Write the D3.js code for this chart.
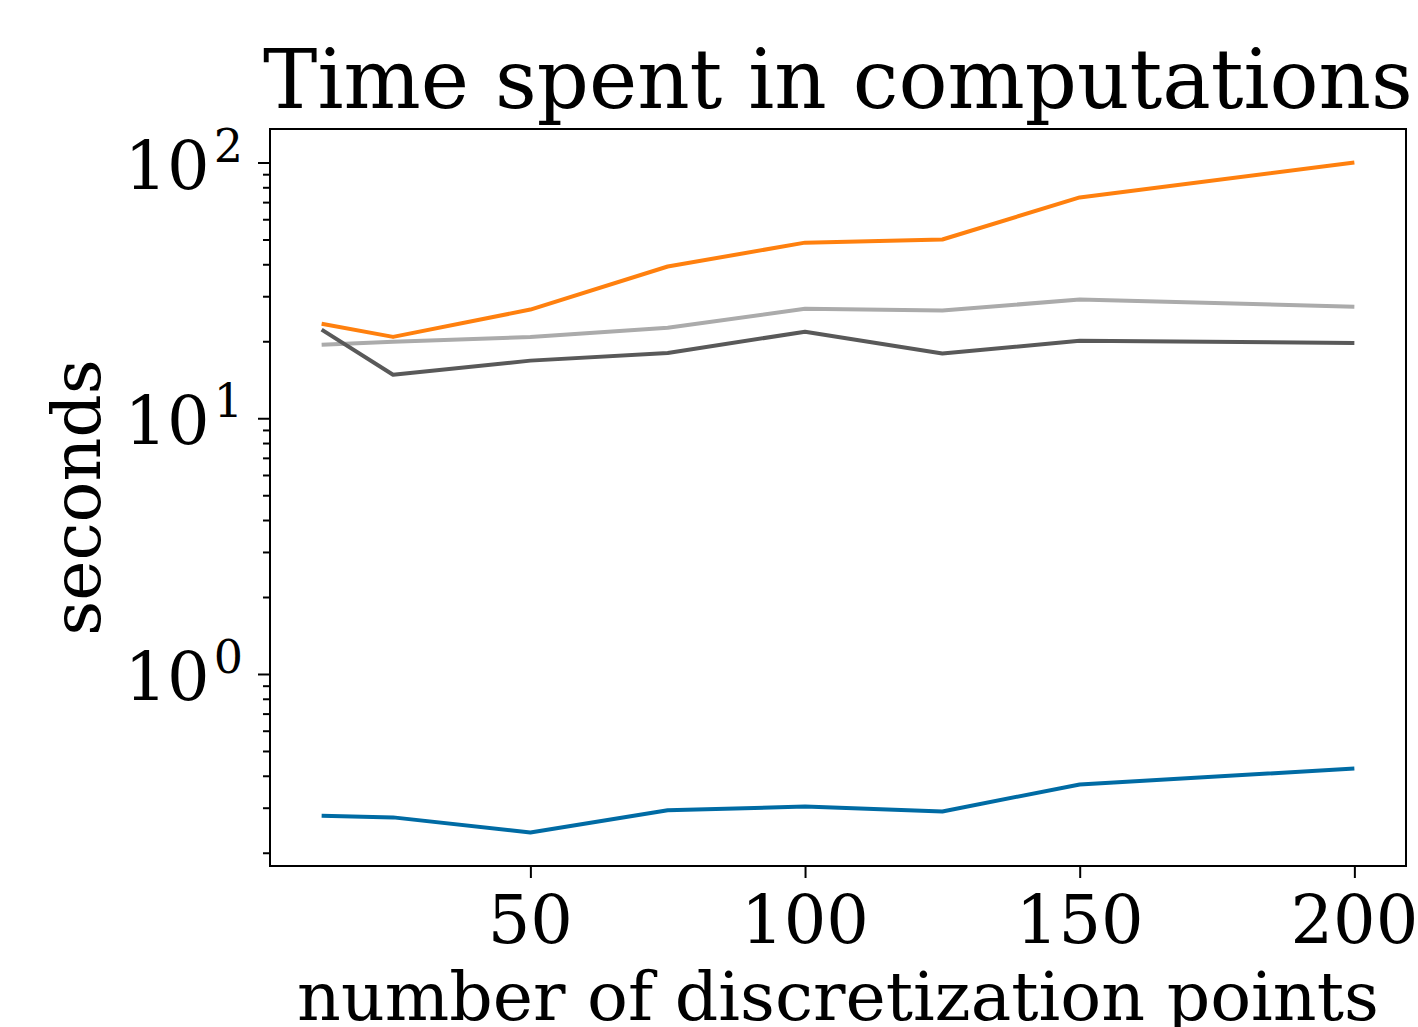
<!DOCTYPE html>
<html>
<head>
<meta charset="utf-8">
<script src="https://cdn.jsdelivr.net/npm/d3@7"></script>
<style>
    body { margin: 0; background: #fff; }
    svg { display: block; font-family: "DejaVu Serif", serif; }
</style>
</head>
<body>
<svg id="chart" width="1418" height="1027"></svg>
<script>
// values
const points = [12, 25, 50, 75, 100, 125, 150, 200]
const seriesBlue = [0.279, 0.275, 0.240, 0.293, 0.303, 0.290, 0.370, 0.427]
const seriesOrange = [23.4, 20.8, 26.6, 39.2, 48.6, 50.0, 73.0, 100.0]
const seriesLight = [19.4, 19.9, 20.8, 22.6, 26.8, 26.4, 29.1, 27.3]
const seriesDark = [22.2, 14.8, 16.8, 18.0, 21.8, 17.9, 20.1, 19.7]
const xTicks = [50, 100, 150, 200]
const yExponents = [0, 1, 2]

const series = [
    { values: seriesBlue, color: "#006ba4" },
    { values: seriesOrange, color: "#ff800e" },
    { values: seriesLight, color: "#ababab" },
    { values: seriesDark, color: "#595959" },
]

let svg = d3.select("#chart")
let plotLeft = 270, plotRight = 1406, plotTop = 129, plotBottom = 866

// matplotlib style 5% margins
let xMin = d3.min(points), xMax = d3.max(points)
let xPad = (xMax - xMin) * 0.05
let x = d3.scaleLinear().domain([xMin - xPad, xMax + xPad]).range([plotLeft, plotRight])

let all = series.flatMap((s) => s.values)
let lMin = Math.log10(d3.min(all)), lMax = Math.log10(d3.max(all))
let lPad = (lMax - lMin) * 0.05
let y = d3.scaleLog().domain([Math.pow(10, lMin - lPad), Math.pow(10, lMax + lPad)]).range([plotBottom, plotTop])

// minor ticks on y
let minor = []
for (let e = -1; e <= 2; e++) {
    for (let m = 2; m <= 9; m++) {
        let v = m * Math.pow(10, e)
        if (v >= y.domain()[0] && v <= y.domain()[1]) minor.push(v)
    }
}

svg.append("g")
    .attr("transform", "translate(" + plotLeft + ",0)")
    .call(d3.axisLeft(y).tickValues(minor).tickSize(7).tickFormat(""))
svg.append("g")
    .attr("transform", "translate(" + plotLeft + ",0)")
    .call(d3.axisLeft(y).tickValues(yExponents.map((e) => Math.pow(10, e))).tickSize(12).tickFormat(""))
svg.append("g")
    .attr("transform", "translate(0," + plotBottom + ")")
    .call(d3.axisBottom(x).tickValues(xTicks).tickSize(12).tickFormat(""))

svg.selectAll(".domain").remove()
svg.selectAll(".tick line").attr("stroke", "#000").attr("stroke-width", 2)

// lines
let line = d3.line()
    .x((d, i) => x(points[i]))
    .y((d) => y(d))

svg.append("g")
    .selectAll("path")
    .data(series)
    .enter()
    .append("path")
    .attr("d", (d) => line(d.values))
    .attr("fill", "none")
    .attr("stroke", (d) => d.color)
    .attr("stroke-width", 4)
    .attr("stroke-linejoin", "round")

// frame
svg.append("rect")
    .attr("x", plotLeft)
    .attr("y", plotTop)
    .attr("width", plotRight - plotLeft)
    .attr("height", plotBottom - plotTop)
    .attr("fill", "none")
    .attr("stroke", "#000")
    .attr("stroke-width", 2)

// x tick labels
svg.append("g")
    .selectAll("text")
    .data(xTicks)
    .enter()
    .append("text")
    .attr("x", (d) => x(d))
    .attr("y", 943)
    .attr("text-anchor", "middle")
    .attr("font-size", 67)
    .text((d) => d)

// y tick labels 10^e
let yLabels = svg.append("g")
    .selectAll("text")
    .data(yExponents)
    .enter()
    .append("text")
    .attr("x", 243)
    .attr("y", (d) => y(Math.pow(10, d)) + 26)
    .attr("text-anchor", "end")
    .attr("font-size", 67)
yLabels.append("tspan").text("10")
yLabels.append("tspan")
    .attr("dy", -27)
    .attr("dx", 4)
    .attr("font-size", 46)
    .text((d) => d)

svg.append("text")
    .attr("x", (plotLeft + plotRight) / 2)
    .attr("y", 108)
    .attr("text-anchor", "middle")
    .attr("font-size", 81.5)
    .text("Time spent in computations")

svg.append("text")
    .attr("x", (plotLeft + plotRight) / 2)
    .attr("y", 1020)
    .attr("text-anchor", "middle")
    .attr("font-size", 68)
    .text("number of discretization points")

svg.append("text")
    .attr("transform", "translate(100," + (plotTop + plotBottom) / 2 + ") rotate(-90)")
    .attr("text-anchor", "middle")
    .attr("font-size", 68)
    .text("seconds")
</script>
</body>
</html>
